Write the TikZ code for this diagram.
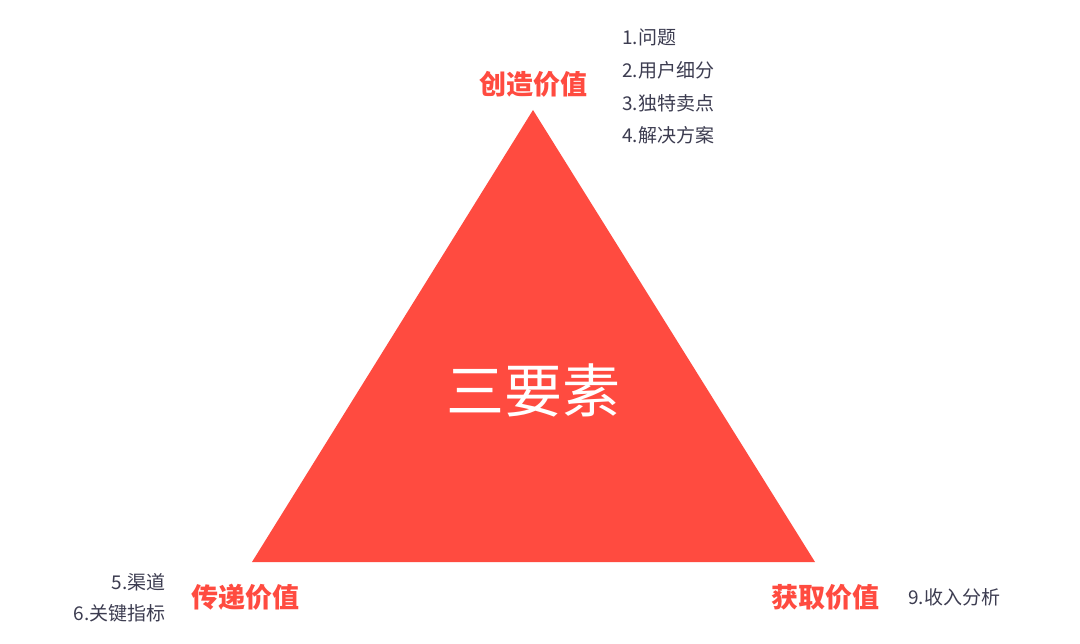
\documentclass[tikz,border=0pt]{standalone}
\usepackage{fontspec}
\setmainfont{Noto Sans CJK SC}
\newfontfamily\cjk{Noto Sans CJK SC}
\definecolor{tri}{HTML}{FF4B40}
\definecolor{lst}{HTML}{3C3C50}
\begin{document}
\begin{tikzpicture}[x=1pt,y=-1pt,
  head/.style={text=tri,font=\cjk\bfseries\fontsize{27}{30}\selectfont,inner sep=0},
  item/.style={text=lst,font=\cjk\fontsize{19}{22}\selectfont,inner sep=0}]
\useasboundingbox (0,0) rectangle (1080,644);
\fill[tri] (533,110) coordinate (top) -- (252,562) coordinate (bl) -- (815,562) coordinate (br) -- cycle;
\node[text=white,font=\cjk\fontsize{58}{62}\selectfont,inner sep=0] (c) at (533,390) {三要素};
\node[head] (h1) at (533,84) {创造价值};
\node[head] (h2) at (245,597) {传递价值};
\node[head] (h3) at (825,597) {获取价值};
\node[item,anchor=west] (a1) at (622,37) {1.问题};
\node[item,anchor=west] (a2) at (622,70) {2.用户细分};
\node[item,anchor=west] (a3) at (622,103) {3.独特卖点};
\node[item,anchor=west] (a4) at (622,135) {4.解决方案};
\node[item,anchor=east] (b1) at (166,582) {5.渠道};
\node[item,anchor=east] (b2) at (166,613) {6.关键指标};
\node[item,anchor=west] (d1) at (908,597) {9.收入分析};
\end{tikzpicture}
\end{document}
